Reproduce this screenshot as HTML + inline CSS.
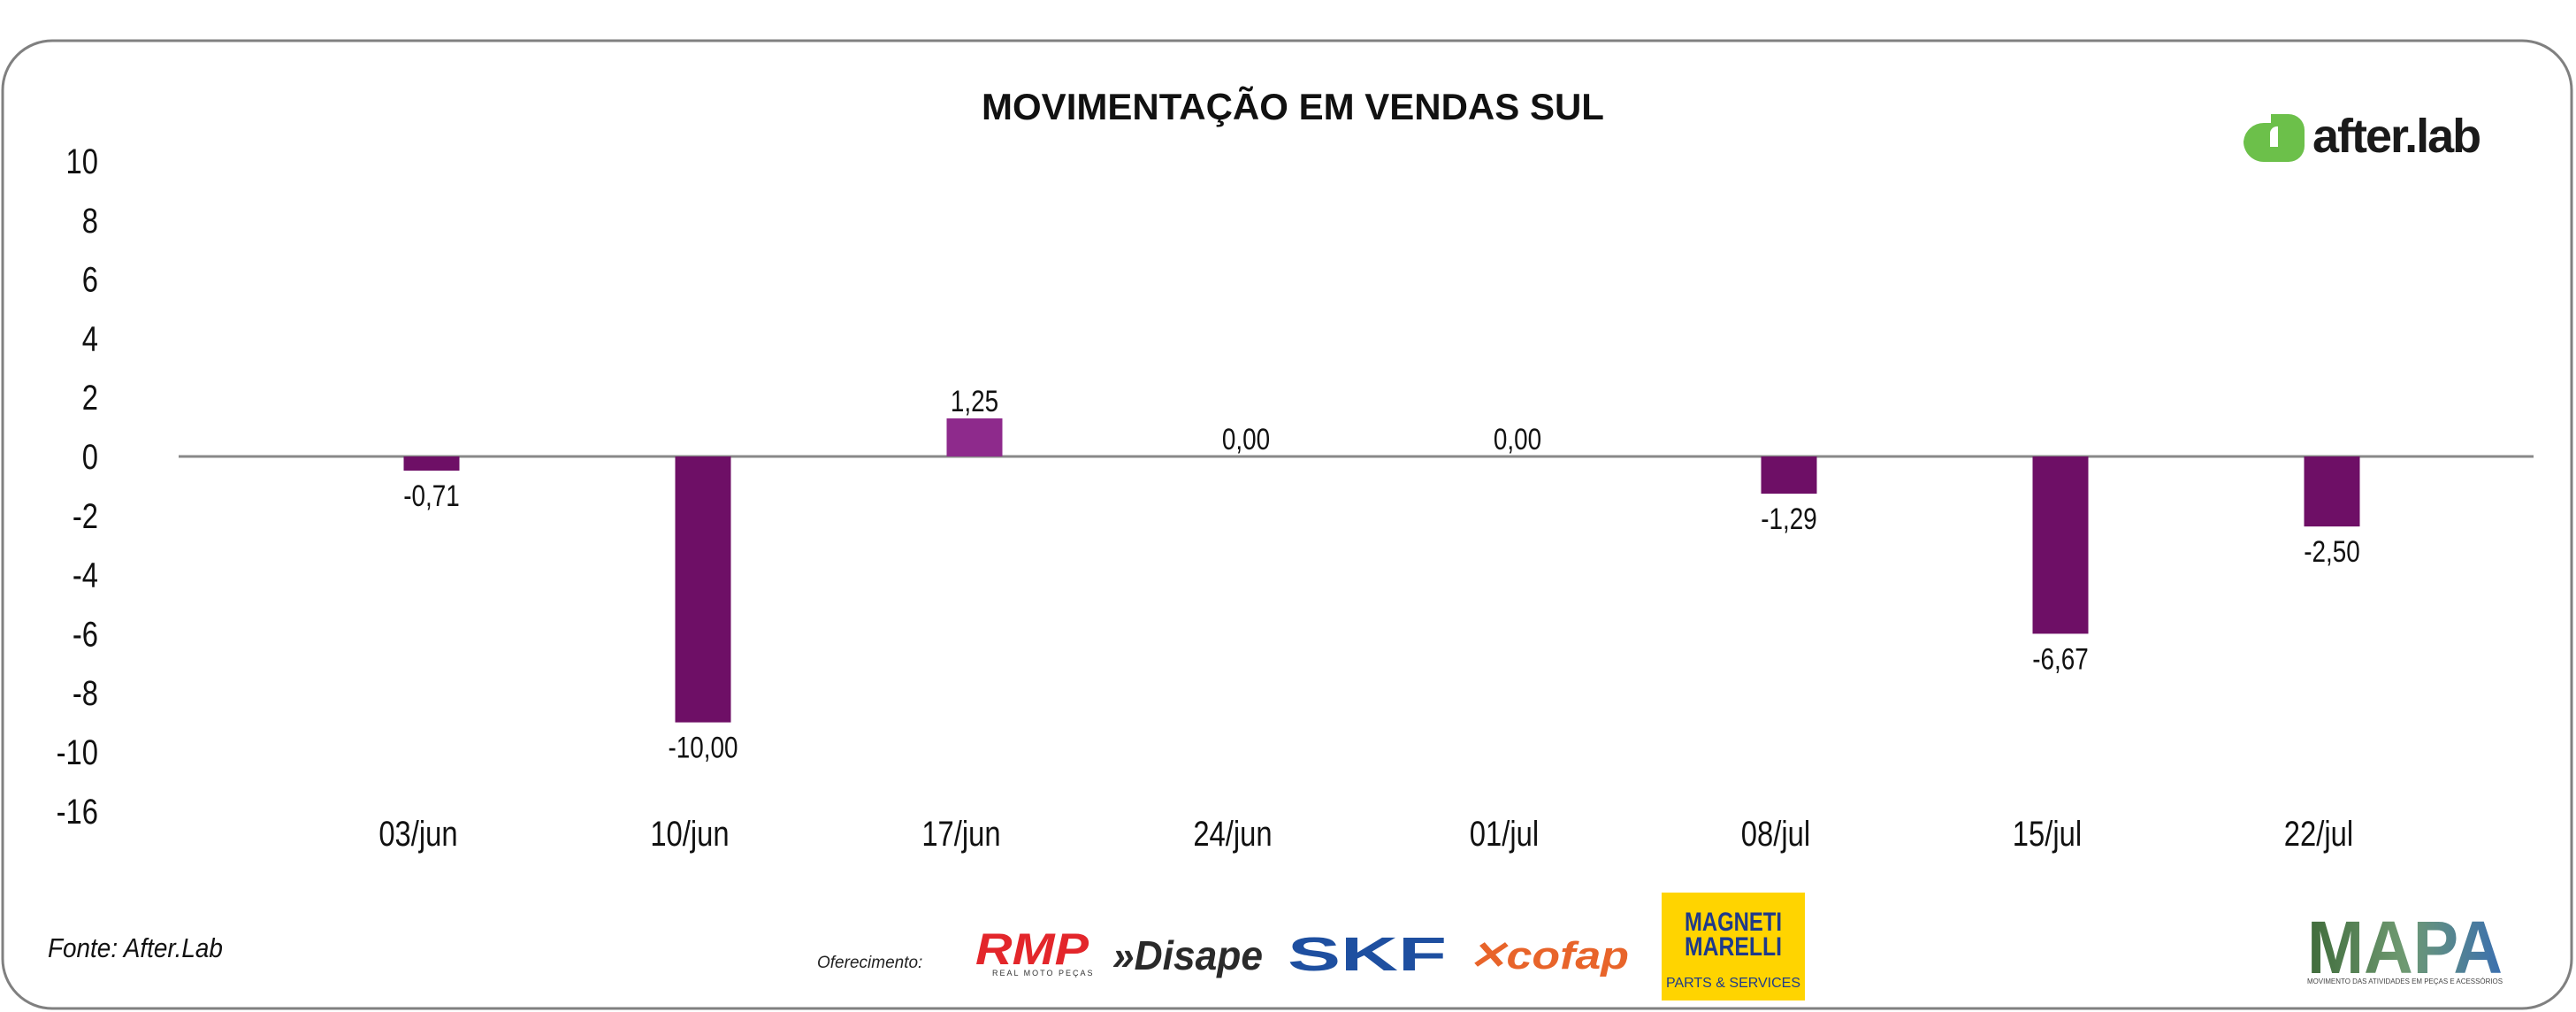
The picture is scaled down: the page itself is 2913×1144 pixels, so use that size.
<!DOCTYPE html>
<html><head><meta charset="utf-8"><style>
body{margin:0;width:2913px;height:1144px;background:#fff;overflow:hidden;position:relative;font-family:"Liberation Sans",sans-serif}
.a{position:absolute}
</style></head><body>
<svg class="a" style="left:0;top:0" width="2913" height="1144">
<rect x="3" y="46" width="2905" height="1094" rx="56" ry="56" fill="#fff" stroke="#808080" stroke-width="3"/>
<text x="1462" y="135" text-anchor="middle" font-family="Liberation Sans" font-weight="bold" font-size="42" fill="#111">MOVIMENTAÇÃO EM VENDAS SUL</text>
<g id="yaxis"></g>
<line x1="202" y1="516" x2="2865" y2="516" stroke="#888" stroke-width="3"/>
<g id="bars"></g>
<g id="xaxis"></g>
<g>
<path d="M2560 139 h22 v44 h-22 a23 23 0 0 1 -23 -23 v0 a23 23 0 0 1 23 -21z" fill="#6CC04A"/>
<path d="M2568 129 h20 a18 18 0 0 1 18 18 v18 a18 18 0 0 1 -18 18 h-12 a8 8 0 0 1 -8 -8 z" fill="#6CC04A"/>
<path d="M2567 150 a8 8 0 0 1 9 -7 v23 h-9z" fill="#fff"/>
<text x="2615" y="172" font-family="Liberation Sans" font-weight="bold" font-size="54" letter-spacing="-2" fill="#1a1a1a">after.lab</text>
</g>
<text x="54" y="1082" font-size="31" font-style="italic" fill="#111" transform="translate(54 0) scale(0.9 1) translate(-54 0)">Fonte: After.Lab</text>
<text x="924" y="1094" font-size="19" font-style="italic" fill="#222">Oferecimento:</text>
<g>
<text x="1103" y="1090" font-size="50" font-weight="bold" font-style="italic" fill="#E3262B" textLength="128" lengthAdjust="spacingAndGlyphs">RMP</text>
<text x="1122" y="1103" font-size="9" fill="#333" letter-spacing="2">REAL MOTO PEÇAS</text>
</g>
<text x="1258" y="1096" font-size="46" font-weight="bold" font-style="italic" fill="#2a2a2a" textLength="170" lengthAdjust="spacingAndGlyphs">»Disape</text>
<text x="1456" y="1097" font-size="54" font-weight="bold" fill="#1E4FA0" textLength="180" lengthAdjust="spacingAndGlyphs">SKF</text>
<text x="1660" y="1095" font-size="44" font-weight="bold" font-style="italic" fill="#E8642A" textLength="182" lengthAdjust="spacingAndGlyphs">✕cofap</text>
<g>
<rect x="1879" y="1009" width="162" height="122" fill="#FFD400"/>
<text x="1960" y="1052" text-anchor="middle" font-size="30" font-weight="bold" fill="#1E3A8A" textLength="110" lengthAdjust="spacingAndGlyphs">MAGNETI</text>
<text x="1960" y="1080" text-anchor="middle" font-size="30" font-weight="bold" fill="#1E3A8A" textLength="110" lengthAdjust="spacingAndGlyphs">MARELLI</text>
<text x="1960" y="1116" text-anchor="middle" font-size="16" fill="#1E3A8A">PARTS &amp; SERVICES</text>
</g>
<g>
<defs><linearGradient id="mg" x1="0" x2="1"><stop offset="0" stop-color="#3f6b3a"/><stop offset="0.5" stop-color="#6f9a72"/><stop offset="1" stop-color="#3a6fb0"/></linearGradient></defs>
<text x="2609" y="1100" font-size="84" font-weight="bold" fill="url(#mg)" textLength="221" lengthAdjust="spacingAndGlyphs">MAPA</text>
<text x="2609" y="1112" font-size="8" fill="#444" textLength="221" lengthAdjust="spacingAndGlyphs">MOVIMENTO DAS ATIVIDADES EM PEÇAS E ACESSÓRIOS</text>
</g>
</svg>
<script>
const categories=["03/jun","10/jun","17/jun","24/jun","01/jul","08/jul","15/jul","22/jul"];
const values=[-0.48,-9.0,1.29,0,0,-1.26,-6.0,-2.37];
const valueLabels=["-0,71","-10,00","1,25","0,00","0,00","-1,29","-6,67","-2,50"];
const tickValues=[10,8,6,4,2,0,-2,-4,-6,-8,-10,-12];
const tickLabels=["10","8","6","4","2","0","-2","-4","-6","-8","-10","-16"];
const NS="http://www.w3.org/2000/svg";
const y=v=>516-v*33.4;
const x=i=>488+i*307;
const bw=63;
const F='"Liberation Sans Narrow","Liberation Sans",sans-serif';
function txt(parent,tx,ty,s,size,anchor){
  const t=document.createElementNS(NS,"text");
  t.setAttribute("x",tx);t.setAttribute("y",ty);t.setAttribute("font-size",size);
  t.setAttribute("text-anchor",anchor);t.setAttribute("fill","#111");
  t.setAttribute("font-family",F);
  t.setAttribute("transform",`translate(${tx} 0) scale(0.82 1) translate(${-tx} 0)`);
  t.textContent=s;parent.appendChild(t);return t;
}
const ya=document.getElementById("yaxis");
tickValues.forEach((v,i)=>{
  const t=txt(ya,111,y(v)+14,tickLabels[i],40,"end");
  
  
});
const bg=document.getElementById("bars"),xa=document.getElementById("xaxis");
categories.forEach((c,i)=>{
  const v=values[i],cx=x(i);
  if(v!==0){
    const r=document.createElementNS(NS,"rect");
    r.setAttribute("x",cx-bw/2);r.setAttribute("width",bw);
    r.setAttribute("y",Math.min(y(v),y(0)));r.setAttribute("height",Math.abs(y(v)-y(0)));
    r.setAttribute("fill",v>0?"#8E2A8C":"#6E0F66");
    
    
    bg.appendChild(r);
  }
  const ly=v<0?y(v)+40:y(v)-8;
  const l=txt(bg,cx,ly,valueLabels[i],34,"middle");
  
  
  const xl=txt(xa,cx-15,956,c,40,"middle");
  
  
});
</script>
</body></html>
